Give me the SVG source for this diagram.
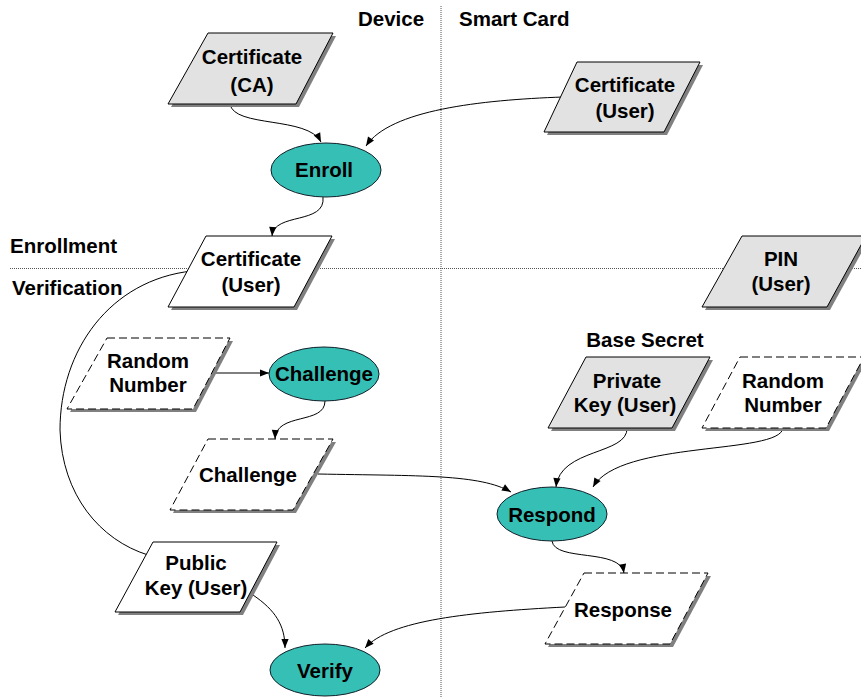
<svg xmlns="http://www.w3.org/2000/svg" width="861" height="697" viewBox="0 0 861 697">
<defs>
<style>
.t{font-family:"Liberation Sans",Arial,sans-serif;font-size:20.5px;font-weight:bold;fill:#000;text-anchor:middle}
.l{font-family:"Liberation Sans",Arial,sans-serif;font-size:20.5px;font-weight:bold;fill:#000}
.sh{fill:#808080;stroke:none}
.grey{fill:#e2e2e2;stroke:#000;stroke-width:1}
.white{fill:#fff;stroke:#000;stroke-width:1}
.dash{fill:#fff;stroke:#000;stroke-width:1;stroke-dasharray:8,4}
.proc{fill:#36bfb5;stroke:#10202a;stroke-width:1}
.dot{stroke:#555;stroke-width:1;stroke-dasharray:1,1;fill:none}
.c{fill:none;stroke:#000;stroke-width:1}
</style>
<marker id="ah" viewBox="0 0 10 10" refX="10" refY="5" markerWidth="10" markerHeight="9" markerUnits="userSpaceOnUse" orient="auto">
<path d="M0,1 L10,5 L0,9 z" fill="#000"/>
</marker>
</defs>
<rect width="861" height="697" fill="#fff"/>

<g id="dividers">
<line class="dot" x1="441" y1="6" x2="441" y2="697"/>
<line class="dot" x1="10" y1="268.5" x2="861" y2="268.5"/>
</g>

<g id="labels">
<text class="l" x="358" y="26">Device</text>
<text class="l" x="459" y="26">Smart Card</text>
<text class="l" x="10" y="253">Enrollment</text>
<text class="l" x="12" y="295">Verification</text>
<text class="t" x="645" y="347">Base Secret</text>
</g>

<g id="connectors">
<path class="c" d="M230,104 C234,128 308,116 321,142" marker-end="url(#ah)"/>
<path class="c" d="M563,97 C480,100 390,110 366,146" marker-end="url(#ah)"/>
<path class="c" d="M323,197 C326,225 274,212 272,236" marker-end="url(#ah)"/>
<path class="c" d="M192,271 C110,280 60,350 60,430 C62,495 100,540 148,555"/>
<path class="c" d="M212,373 L269,373" marker-end="url(#ah)"/>
<path class="c" d="M325,401 C325,425 276,412 275,439" marker-end="url(#ah)"/>
<path class="c" d="M318,474 C420,476 480,474 511,492" marker-end="url(#ah)"/>
<path class="c" d="M627,428 C628,455 560,448 556,487" marker-end="url(#ah)"/>
<path class="c" d="M783,428 C780,455 620,440 593,487" marker-end="url(#ah)"/>
<path class="c" d="M552,541 C555,562 620,548 624,573" marker-end="url(#ah)"/>
<path class="c" d="M565,607 C470,612 390,620 365,648" marker-end="url(#ah)"/>
<path class="c" d="M253,595 C275,610 285,625 285,648" marker-end="url(#ah)"/>
</g>

<g id="certCA">
<polygon class="sh" points="211,36 336,36 299,107 171,107"/>
<polygon class="grey" points="208,33 333,33 296,104 168,104"/>
<text class="t" x="252" y="64">Certificate</text>
<text class="t" x="252" y="92">(CA)</text>
</g>

<g id="certUserCard">
<polygon class="sh" points="580,65 703,65 667,135 547,135"/>
<polygon class="grey" points="577,62 700,62 664,132 544,132"/>
<text class="t" x="625" y="92">Certificate</text>
<text class="t" x="625" y="118">(User)</text>
</g>

<g id="enroll">
<ellipse class="proc" cx="326" cy="170" rx="55" ry="27"/>
<text class="t" x="324" y="177">Enroll</text>
</g>

<g id="certUserDevice">
<polygon class="sh" points="209,239 335,239 297,310 171,310"/>
<polygon class="white" points="206,236 332,236 294,307 168,307"/>
<text class="t" x="251" y="266">Certificate</text>
<text class="t" x="251" y="292">(User)</text>
</g>

<g id="pin">
<polygon class="sh" points="745,239 869,239 830,310 705,310"/>
<polygon class="grey" points="742,236 866,236 827,307 702,307"/>
<text class="t" x="781" y="266">PIN</text>
<text class="t" x="781" y="291">(User)</text>
</g>

<g id="randomDevice">
<polygon class="sh" points="110,341 233,341 196,412 70,412"/>
<polygon class="dash" points="107,338 230,338 193,409 67,409"/>
<text class="t" x="148" y="368">Random</text>
<text class="t" x="148" y="392">Number</text>
</g>

<g id="challengeProc">
<ellipse class="proc" cx="324" cy="374" rx="55" ry="27"/>
<text class="t" x="324" y="381">Challenge</text>
</g>

<g id="challengeData">
<polygon class="sh" points="211,442 336,442 296,513 173,513"/>
<polygon class="dash" points="208,439 333,439 293,510 170,510"/>
<text class="t" x="248" y="482">Challenge</text>
</g>

<g id="privateKey">
<polygon class="sh" points="589,360 713,360 675,431 551,431"/>
<polygon class="grey" points="586,357 710,357 672,428 548,428"/>
<text class="t" x="627" y="388">Private</text>
<text class="t" x="625" y="412">Key (User)</text>
</g>

<g id="randomCard">
<polygon class="sh" points="743,360 867,360 829,431 705,431"/>
<polygon class="dash" points="740,357 864,357 826,428 702,428"/>
<text class="t" x="783" y="388">Random</text>
<text class="t" x="783" y="412">Number</text>
</g>

<g id="respond">
<ellipse class="proc" cx="552" cy="514" rx="55" ry="27"/>
<text class="t" x="552" y="522">Respond</text>
</g>

<g id="publicKey">
<polygon class="sh" points="156,545 280,545 243,615 118,615"/>
<polygon class="white" points="153,542 277,542 240,612 115,612"/>
<text class="t" x="196" y="570">Public</text>
<text class="t" x="196" y="595">Key (User)</text>
</g>

<g id="response">
<polygon class="sh" points="587,576 711,576 673,647 548,647"/>
<polygon class="dash" points="584,573 708,573 670,644 545,644"/>
<text class="t" x="623" y="617">Response</text>
</g>

<g id="verify">
<ellipse class="proc" cx="325" cy="670" rx="55" ry="26"/>
<text class="t" x="325" y="678">Verify</text>
</g>
</svg>
